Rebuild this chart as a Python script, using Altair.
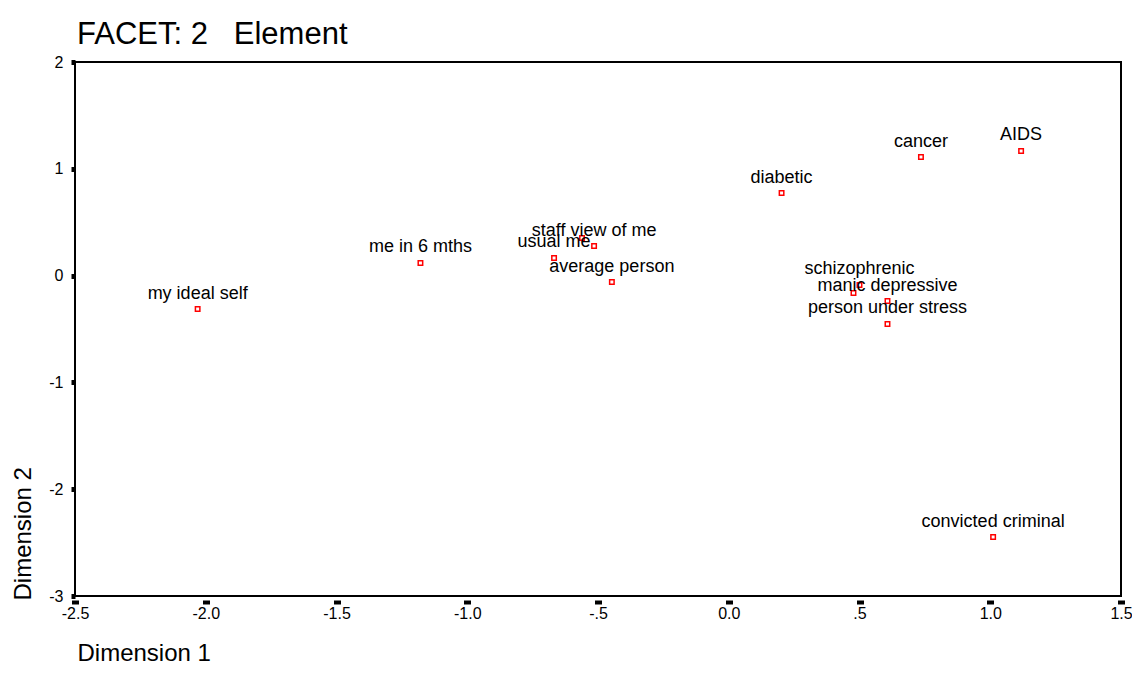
import altair as alt
import pandas as pd

labels = ["my ideal self", "me in 6 mths", "", "staff view of me", "usual me",
          "average person", "diabetic", "cancer", "AIDS", "schizophrenic", "",
          "manic depressive", "person under stress", "convicted criminal"]
dim1 = [-2.031, -1.179, -0.561, -0.515, -0.668, -0.447, 0.202, 0.735, 1.118,
        0.500, 0.477, 0.607, 0.607, 1.011]
dim2 = [-0.313, 0.118, 0.352, 0.277, 0.165, -0.060, 0.773, 1.110, 1.167,
        -0.088, -0.163, -0.238, -0.453, -2.448]

x_ticks = [-2.5, -2.0, -1.5, -1.0, -0.5, 0.0, 0.5, 1.0, 1.5]
y_ticks = [-3, -2, -1, 0, 1, 2]

df = pd.DataFrame({"label": labels, "d1": dim1, "d2": dim2})

FONT = "Liberation Sans"

x_enc = alt.X("d1:Q",
              scale=alt.Scale(domain=[-2.5, 1.5], nice=False, zero=False),
              axis=alt.Axis(values=x_ticks, title="Dimension 1", grid=False,
                            domain=False, offset=4, tickSize=4, tickWidth=7,
                            tickColor="black", labelFontSize=16, labelFont=FONT,
                            labelColor="black", labelPadding=1, labelFlush=False,
                            labelExpr="datum.value == 0.5 ? '.5' : (datum.value == -0.5 ? '-.5' : replace(format(datum.value, '.1f'), '\u2212', '-'))",
                            titleFont=FONT, titleFontSize=24, titleFontWeight="normal",
                            titleColor="black", titleAnchor="start", titleAlign="left",
                            titleBaseline="alphabetic", titleX=2, titleY=60))
y_enc = alt.Y("d2:Q",
              scale=alt.Scale(domain=[-3, 2], nice=False, zero=False),
              axis=alt.Axis(values=y_ticks, title="Dimension 2", grid=False,
                            domain=False, tickSize=4, tickWidth=5, tickColor="black",
                            labelFontSize=16, labelFont=FONT, labelColor="black",
                            labelPadding=8, labelFlush=False,
                            labelExpr="'' + datum.value",
                            titleFont=FONT, titleFontSize=24, titleFontWeight="normal",
                            titleColor="black", titleAngle=270, titleAlign="left",
                            titleBaseline="alphabetic", titleX=-45, titleY=538))

points = alt.Chart(df).mark_square(size=20, filled=False, color="#ff0000",
                                   strokeWidth=1.5, opacity=1).encode(x=x_enc, y=y_enc)
texts = alt.Chart(df).mark_text(align="center", baseline="alphabetic", dy=-10.5,
                                font=FONT, fontSize=18, color="black").encode(
    x="d1:Q", y="d2:Q", text="label:N")

chart = (points + texts).properties(
    width=1046, height=534,
    autosize=alt.AutoSizeParams(type="none"),
    padding={"left": 67, "top": 54, "right": 11, "bottom": 70},
    title=alt.TitleParams("FACET:\u00a02\u00a0\u00a0\u00a0Element", anchor="start",
                          frame="group", font=FONT, fontSize=31, fontWeight="normal",
                          color="black", offset=3, dx=2),
).configure_view(stroke="black", strokeWidth=2)

chart.save("out.html", embed_options={"renderer": "svg", "actions": False})
